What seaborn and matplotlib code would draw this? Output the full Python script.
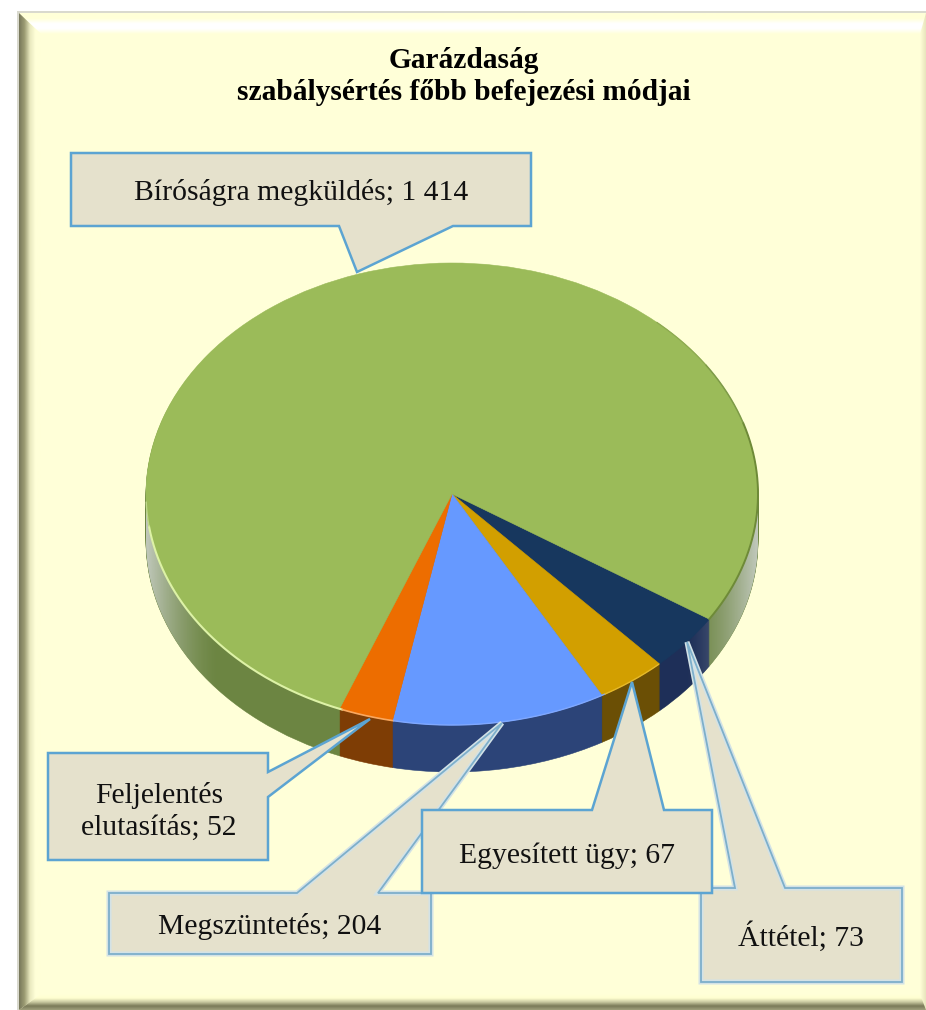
import numpy as np
import matplotlib
matplotlib.use("Agg")
import matplotlib.pyplot as plt
from matplotlib.colors import LinearSegmentedColormap
from matplotlib.patches import Polygon
import seaborn as sns

# ---- data (clockwise from the right-hand edge of the dark blue slice)
categories = ["Áttétel", "Egyesített ügy", "Megszüntetés", "Feljelentés\nelutasítás", "Bíróságra megküldés"]
values = [73, 67, 204, 52, 1414]
title_lines = ["Garázdaság", "szabálysértés főbb befejezési módjai"]

top_colors = ["#17375E", "#D29F00", "#6699FF", "#ED6D00", "#9BBB59"]
side_colors = ["#1E2F58", "#6B4F05", "#2C4478", "#7E3D05", "#6C8542"]

W, H = 926, 1010
CX, CY, RX, RY = 452, 494, 306, 231
DEPTH = 47
BG = "#FFFFD8"

sns.set_theme(style="white")
plt.rcParams["font.family"] = ["Liberation Serif", "DejaVu Serif"]

fig = plt.figure(figsize=(W / 100, H / 100), dpi=100, facecolor="white")


def pixel_axes(z):
    a = fig.add_axes([0, 0, 1, 1], zorder=z)
    a.patch.set_alpha(0)
    a.set_axis_off()
    return a


def band(a, x0, x1, y0, y1, cols, vertical, clip=None):
    cmap = LinearSegmentedColormap.from_list("b", cols)
    g = np.linspace(0, 1, 128)
    g = g[:, None] if vertical else g[None, :]
    im = a.imshow(g, extent=(x0, x1, y1, y0), cmap=cmap, aspect="auto", vmin=0, vmax=1, zorder=2)
    if clip is not None:
        im.set_clip_path(Polygon(clip, closed=True, transform=a.transData))


# ---- bevelled background
bg = pixel_axes(0)
bg.add_patch(Polygon([(17, 11), (W, 11), (W, H), (17, H)], closed=True, fc="#D9D9CE", ec="none", zorder=0))
bg.add_patch(Polygon([(19, 13), (W, 13), (W, H), (19, H)], closed=True, fc=BG, ec="none", zorder=1))
band(bg, 19, W, 13, 34, ["#FFFFD8", "#FFFFD8", "#FFFFFF", "#FFFFFF", "#FFFFD8"], True,
     [(19, 13), (W, 13), (W, 34), (41, 34)])
band(bg, 19, 41, 13, H, ["#77775A", "#9C9C74", "#E8E8BE", "#FFFFD8", "#FFFFD8"], False,
     [(19, 13), (41, 34), (41, 994), (19, H)])
band(bg, 19, W, 994, H, ["#FFFFD8", "#FFFFD0", "#C9C9A0", "#7A7A58", "#A0A07C"], True,
     [(41, 994), (W, 994), (W, H), (19, H)])
band(bg, 920, W, 13, H, ["#FFFFD8", "#E8E4BC"], False, [(920, 34), (W, 13), (W, H), (920, 994)])
bg.set_xlim(0, W)
bg.set_ylim(H, 0)

# ---- pie: a stack of offset pies gives the thick side
ax = pixel_axes(1)
side_pal = sns.color_palette(side_colors)
top_pal = sns.color_palette(top_colors)
START = -32.8
for i in range(DEPTH, 0, -1):
    layer, _ = ax.pie(values, colors=side_pal, startangle=START, counterclock=False,
                      center=(0, -i / RY), radius=1)
    for w in layer:
        w.set_edgecolor(w.get_facecolor())
        w.set_linewidth(0.4)

# grey fade on the far left/right of the side wall
t = np.linspace(0, 2 * np.pi, 361)
upper = np.c_[np.cos(t[:181]), np.sin(t[:181])]
lower = np.c_[np.cos(t[180:]), np.sin(t[180:]) - DEPTH / RY]
hull = np.r_[upper, lower]
xs = np.linspace(-1, 1, 400)
fade = np.clip((np.abs(xs) - 0.76) / 0.24, 0, 1) ** 1.6 * 0.88
rgba = np.ones((2, 400, 4))
rgba[..., :3] = np.array([0.80, 0.82, 0.80])
rgba[..., 3] = fade
im = ax.imshow(rgba, extent=(-1, 1, -1.3, 0.1), aspect="auto", zorder=1.5)
im.set_clip_path(Polygon(hull, closed=True, transform=ax.transData))

wedges, _ = ax.pie(values, colors=top_pal, startangle=START, counterclock=False,
                   center=(0, 0), radius=1)
for w in wedges:
    w.set_edgecolor(w.get_facecolor())
    w.set_linewidth(0.4)
    w.set_zorder(3)


def rim(th0, th1, color, lw):
    th = np.radians(np.linspace(th0, th1, 200))
    ax.plot(np.cos(th), np.sin(th), color=color, lw=lw, zorder=4, solid_capstyle="round")


rim(START, 18, "#6E8A38", 1.4)
rim(18, 34, "#7E9B48", 1.1)
rim(34, 48, "#8DAA50", 0.9)
rim(-111, -172, "#DDF2A6", 1.5)
rim(-172, -178, "#BFD88A", 1.0)
rim(-101, -111, "#F9A860", 1.2)
rim(-60, -101, "#7FA8FF", 1.0)
rim(-47.5, -60, "#E6B92A", 1.0)

ax.set_aspect("auto")
ax.set_xlim((0 - CX) / RX, (W - CX) / RX)
ax.set_ylim((CY - H) / RY, CY / RY)
ax.set_axis_off()

# ---- callouts and titles
fg = pixel_axes(2)
FILL = "#E5E1CC"
EDGE = "#5CA4D2"


def callout(x0, y0, x1, y1, tail, soft=False):
    """Rectangle with a pointed tail; tail = (side, base a, tip, base b)."""
    side, a, tip, b = tail
    if side == "top":
        pts = [(x0, y0), (a, y0), tip, (b, y0), (x1, y0), (x1, y1), (x0, y1)]
    elif side == "bottom":
        pts = [(x0, y0), (x1, y0), (x1, y1), (b, y1), tip, (a, y1), (x0, y1)]
    else:
        pts = [(x0, y0), (x1, y0), (x1, a), tip, (x1, b), (x1, y1), (x0, y1)]
    if soft:
        fg.add_patch(Polygon(pts, closed=True, fc=FILL, ec="#D3E2E6", lw=3.6, joinstyle="miter"))
        fg.add_patch(Polygon(pts, closed=True, fc="none", ec="#7DAFCB", lw=1.3, joinstyle="miter"))
    else:
        fg.add_patch(Polygon(pts, closed=True, fc=FILL, ec=EDGE, lw=1.8, joinstyle="miter"))


def label(i):
    v = f"{values[i]:,}".replace(",", " ")
    return f"{categories[i]}; {v}"


callout(701, 888, 902, 982, ("top", 735, (687, 642), 785), soft=True)
callout(109, 893, 431, 954, ("top", 297, (502, 723), 378), soft=True)
callout(422, 810, 712, 893, ("top", 592, (632, 682), 664))
callout(48, 753, 268, 860, ("right", 772, (370, 719), 797))
callout(71, 153, 531, 226, ("bottom", 339, (357, 272), 453))

FS = 21.3
for i, (x, y) in zip(range(5), [(801, 946), (567, 863), (270, 934), (159, 835), (301, 200)]):
    fg.text(x, y, label(i), ha="center", va="baseline", fontsize=FS, color="#111111",
            linespacing=1.27, zorder=5)

fg.text(464, 68, title_lines[0], ha="center", va="baseline", fontsize=21.2, fontweight="bold", color="black")
fg.text(464, 100, title_lines[1], ha="center", va="baseline", fontsize=21.2, fontweight="bold", color="black")
fg.set_xlim(0, W)
fg.set_ylim(H, 0)

fig.savefig("out.png", dpi=100, facecolor="white")
